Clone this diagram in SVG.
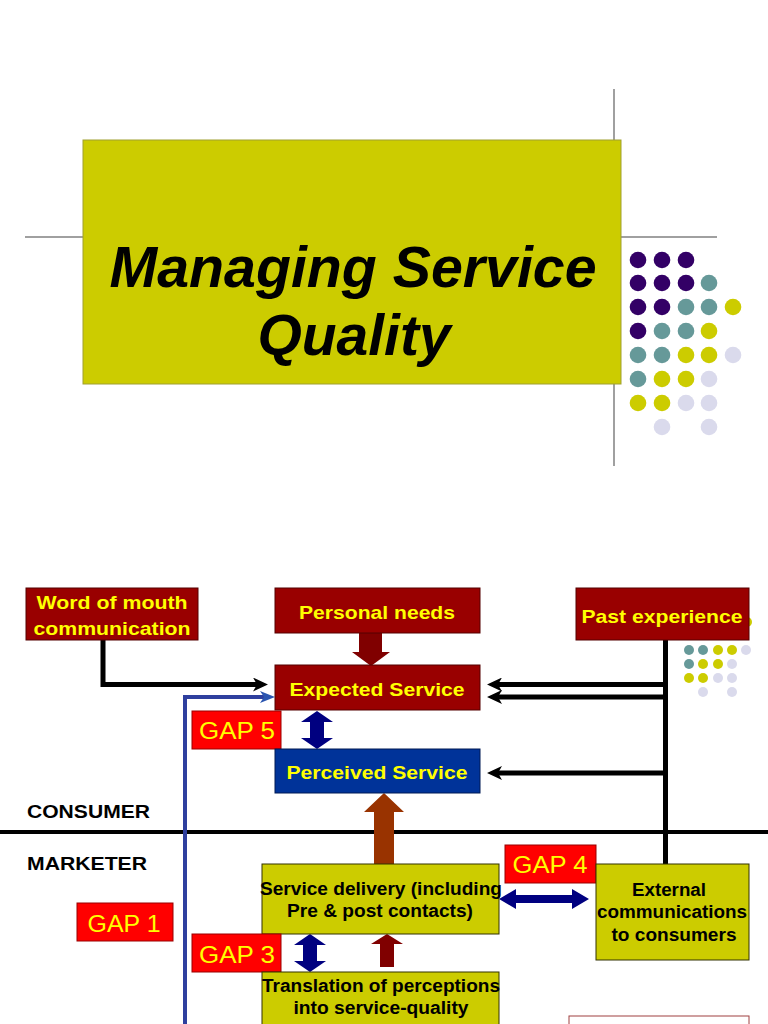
<svg xmlns="http://www.w3.org/2000/svg" width="768" height="1024" viewBox="0 0 768 1024">
<defs>
<style>
.bg{fill:#ffffff}
.gl{stroke:#808080;stroke-width:1.5;fill:none}
.olive{fill:#CCCC00;stroke:#333300;stroke-width:1}
.tbox{fill:#CCCC00;stroke:#A0A030;stroke-width:1}
.red{fill:#990000;stroke:#550000;stroke-width:1}
.blue{fill:#003399;stroke:#001a55;stroke-width:1}
.gap{fill:#FF0000;stroke:#990000;stroke-width:1}
.ty{font-family:"Liberation Sans",Arial,sans-serif;font-weight:bold;font-size:19px;fill:#FFFF00;text-anchor:middle}
.tg{font-family:"Liberation Sans",Arial,sans-serif;font-size:23px;fill:#FFFF00;text-anchor:middle}
.tk{font-family:"Liberation Sans",Arial,sans-serif;font-weight:bold;font-size:18px;fill:#000000;text-anchor:middle}
.tl{font-family:"Liberation Sans",Arial,sans-serif;font-weight:bold;font-size:18px;fill:#000000}
.title{font-family:"Liberation Sans",Arial,sans-serif;font-weight:bold;font-style:italic;font-size:57px;fill:#000000;text-anchor:middle}
.pu{fill:#330066}.te{fill:#669999}.ye{fill:#CCCC00}.la{fill:#DADAEC}
.bk{stroke:#000000;stroke-width:5;fill:none}
.bl{stroke:#2E3F9E;stroke-width:4;fill:none}
.navy{fill:#000080}
.dred{fill:#800000}
.brown{fill:#993300}
</style>
<marker id="ahk" markerUnits="userSpaceOnUse" markerWidth="15" markerHeight="14" viewBox="0 0 15 14" refX="4" refY="7" orient="auto">
<path d="M0,0 L15,7 L0,14 L4,7 z" fill="#000000"/>
</marker>
<marker id="ahb" markerUnits="userSpaceOnUse" markerWidth="15" markerHeight="12" viewBox="0 0 15 12" refX="4" refY="6" orient="auto">
<path d="M0,0 L15,6 L0,12 L4,6 z" fill="#2B55B0"/>
</marker>
</defs>
<rect class="bg" x="0" y="0" width="768" height="1024"/>

<!-- Title slide -->
<g id="title-slide">
<line class="gl" x1="614" y1="89" x2="614" y2="466"/>
<line class="gl" x1="25" y1="237" x2="717" y2="237"/>
<rect class="tbox" x="83" y="140" width="538" height="244"/>
<text class="title" x="353" y="287" textLength="487" lengthAdjust="spacingAndGlyphs">Managing Service</text>
<text class="title" x="354" y="355">Quality</text>
</g>
<g id="dots-large">
<circle class="pu" cx="638" cy="260" r="8.3"/><circle class="pu" cx="662" cy="260" r="8.3"/><circle class="pu" cx="686" cy="260" r="8.3"/>
<circle class="pu" cx="638" cy="283" r="8.3"/><circle class="pu" cx="662" cy="283" r="8.3"/><circle class="pu" cx="686" cy="283" r="8.3"/><circle class="te" cx="709" cy="283" r="8.3"/>
<circle class="pu" cx="638" cy="307" r="8.3"/><circle class="pu" cx="662" cy="307" r="8.3"/><circle class="te" cx="686" cy="307" r="8.3"/><circle class="te" cx="709" cy="307" r="8.3"/><circle class="ye" cx="733" cy="307" r="8.3"/>
<circle class="pu" cx="638" cy="331" r="8.3"/><circle class="te" cx="662" cy="331" r="8.3"/><circle class="te" cx="686" cy="331" r="8.3"/><circle class="ye" cx="709" cy="331" r="8.3"/>
<circle class="te" cx="638" cy="355" r="8.3"/><circle class="te" cx="662" cy="355" r="8.3"/><circle class="ye" cx="686" cy="355" r="8.3"/><circle class="ye" cx="709" cy="355" r="8.3"/><circle class="la" cx="733" cy="355" r="8.3"/>
<circle class="te" cx="638" cy="379" r="8.3"/><circle class="ye" cx="662" cy="379" r="8.3"/><circle class="ye" cx="686" cy="379" r="8.3"/><circle class="la" cx="709" cy="379" r="8.3"/>
<circle class="ye" cx="638" cy="403" r="8.3"/><circle class="ye" cx="662" cy="403" r="8.3"/><circle class="la" cx="686" cy="403" r="8.3"/><circle class="la" cx="709" cy="403" r="8.3"/>
<circle class="la" cx="662" cy="427" r="8.3"/><circle class="la" cx="709" cy="427" r="8.3"/>
</g>

<!-- small dots behind past experience -->
<g id="dots-small">
<circle class="ye" cx="747" cy="622" r="5"/>
<circle class="te" cx="689" cy="650" r="5"/><circle class="te" cx="703" cy="650" r="5"/><circle class="ye" cx="718" cy="650" r="5"/><circle class="ye" cx="732" cy="650" r="5"/><circle class="la" cx="746" cy="650" r="5"/>
<circle class="te" cx="689" cy="664" r="5"/><circle class="ye" cx="703" cy="664" r="5"/><circle class="ye" cx="718" cy="664" r="5"/><circle class="la" cx="732" cy="664" r="5"/>
<circle class="ye" cx="689" cy="678" r="5"/><circle class="ye" cx="703" cy="678" r="5"/><circle class="la" cx="718" cy="678" r="5"/><circle class="la" cx="732" cy="678" r="5"/>
<circle class="la" cx="703" cy="692" r="5"/><circle class="la" cx="732" cy="692" r="5"/>
</g>

<!-- Connectors -->
<g id="connectors">
<line x1="0" y1="832" x2="768" y2="832" stroke="#000000" stroke-width="4"/>
<polyline class="bk" points="103,640 103,684.5 257,684.5" marker-end="url(#ahk)"/>
<polyline class="bl" points="185,1024 185,697 264,697" marker-end="url(#ahb)"/>
<line class="bk" x1="665.5" y1="640" x2="665.5" y2="864"/>
<line class="bk" x1="668" y1="684.5" x2="498" y2="684.5" marker-end="url(#ahk)"/>
<line class="bk" x1="668" y1="697" x2="498" y2="697" marker-end="url(#ahk)"/>
<line class="bk" x1="665" y1="773" x2="498" y2="773" marker-end="url(#ahk)"/>
<polygon class="dred" points="359,633 382,633 382,652 390,652 371,666 352,652 359,652"/>
<polygon class="navy" points="317,711 333,722 324,722 324,738 333,738 317,749 301,738 310,738 310,722 301,722"/>
<polygon class="brown" points="384,793 404,812 394,812 394,864 374,864 374,812 364,812"/>
<polygon class="navy" points="499,899 516,889 516,895 572,895 572,889 589,899 572,909 572,903 516,903 516,909"/>
<polygon class="navy" points="310,934 326,945 317,945 317,961 326,961 310,972 294,961 303,961 303,945 294,945"/>
<polygon class="dred" points="387,934 403,944 394,944 394,967 380,967 380,944 371,944"/>
</g>

<!-- Nodes -->
<g id="word-of-mouth">
<rect class="red" x="26" y="588" width="172" height="52"/>
<text class="ty" x="112" y="609" textLength="151" lengthAdjust="spacingAndGlyphs">Word of mouth</text>
<text class="ty" x="112" y="635" textLength="157" lengthAdjust="spacingAndGlyphs">communication</text>
</g>
<g id="personal-needs">
<rect class="red" x="275" y="588" width="205" height="45"/>
<text class="ty" x="377" y="619" textLength="156" lengthAdjust="spacingAndGlyphs">Personal needs</text>
</g>
<g id="past-experience">
<rect class="red" x="576" y="588" width="173" height="52"/>
<text class="ty" x="662" y="623" textLength="161" lengthAdjust="spacingAndGlyphs">Past experience</text>
</g>
<g id="expected-service">
<rect class="red" x="275" y="665" width="205" height="45"/>
<text class="ty" x="377" y="696" textLength="175" lengthAdjust="spacingAndGlyphs">Expected Service</text>
</g>
<g id="gap5">
<rect class="gap" x="192" y="711" width="89" height="38"/>
<text class="tg" x="237" y="739" textLength="76" lengthAdjust="spacingAndGlyphs">GAP 5</text>
</g>
<g id="perceived-service">
<rect class="blue" x="275" y="749" width="205" height="44"/>
<text class="ty" x="377" y="779" textLength="181" lengthAdjust="spacingAndGlyphs">Perceived Service</text>
</g>
<g id="labels">
<text class="tl" x="27" y="818" textLength="123" lengthAdjust="spacingAndGlyphs">CONSUMER</text>
<text class="tl" x="27" y="870" textLength="120" lengthAdjust="spacingAndGlyphs">MARKETER</text>
</g>
<g id="gap4">
<rect class="gap" x="505" y="845" width="91" height="38"/>
<text class="tg" x="550" y="873" textLength="75" lengthAdjust="spacingAndGlyphs">GAP 4</text>
</g>
<g id="service-delivery">
<rect class="olive" x="262" y="864" width="237" height="70"/>
<text class="tk" x="381" y="895" textLength="242" lengthAdjust="spacingAndGlyphs">Service delivery (including</text>
<text class="tk" x="380" y="917" textLength="186" lengthAdjust="spacingAndGlyphs">Pre &amp; post contacts)</text>
</g>
<g id="external-communications">
<rect class="olive" x="596" y="864" width="153" height="96"/>
<text class="tk" x="669" y="896" textLength="74" lengthAdjust="spacingAndGlyphs">External</text>
<text class="tk" x="672" y="918" textLength="150" lengthAdjust="spacingAndGlyphs">communications</text>
<text class="tk" x="674" y="941" textLength="125" lengthAdjust="spacingAndGlyphs">to consumers</text>
</g>
<g id="gap1">
<rect class="gap" x="77" y="903" width="96" height="38"/>
<text class="tg" x="124" y="932" textLength="73" lengthAdjust="spacingAndGlyphs">GAP 1</text>
</g>
<g id="gap3">
<rect class="gap" x="192" y="934" width="89" height="38"/>
<text class="tg" x="237" y="963" textLength="76" lengthAdjust="spacingAndGlyphs">GAP 3</text>
</g>
<g id="translation">
<rect class="olive" x="262" y="972" width="237" height="60"/>
<text class="tk" x="381" y="992" textLength="238" lengthAdjust="spacingAndGlyphs">Translation of perceptions</text>
<text class="tk" x="381" y="1014" textLength="175" lengthAdjust="spacingAndGlyphs">into service-quality</text>
</g>
<g id="bottom-box">
<rect x="569" y="1016" width="180" height="20" fill="#ffffff" stroke="#A04040" stroke-width="1"/>
</g>
</svg>
